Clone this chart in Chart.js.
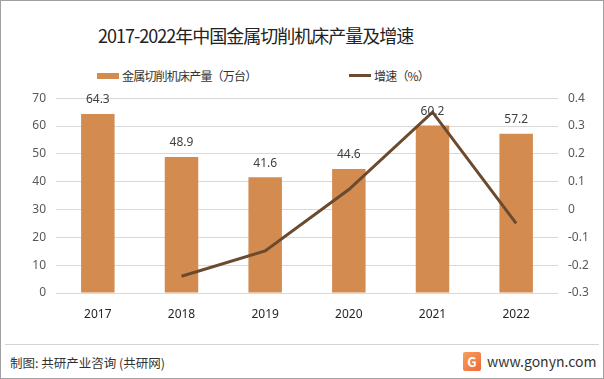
<!DOCTYPE html>
<html lang="zh-CN">
<head>
    <meta charset="UTF-8">
    <script src="https://cdn.jsdelivr.net/npm/chart.js"></script>
    <title>2017-2022年中国金属切削机床产量及增速</title>
    <style>
        html, body {
            margin: 0;
            padding: 0;
            background: #fff;
        }
        .frame {
            position: relative;
            width: 604px;
            height: 379px;
            box-sizing: border-box;
            border: 1px solid #a0a0a0;
            overflow: hidden;
            font-family: "Noto Sans CJK SC", "Noto Sans", sans-serif;
        }
        .title {
            position: absolute;
            top: 21px;
            left: 97px;
            font-size: 18px;
            letter-spacing: -1px;
            color: #222;
            white-space: nowrap;
        }
        .legend {
            position: absolute;
            top: 66px;
            font-size: 12px;
            letter-spacing: -0.8px;
            color: #333;
            white-space: nowrap;
            display: flex;
            align-items: center;
        }
        .legend .swatch {
            display: inline-block;
            width: 22px;
            margin-right: 3px;
        }
        #chartBox {
            position: absolute;
            top: 80px;
            left: 0;
        }
        .footer-line {
            position: absolute;
            left: 4px;
            right: 4px;
            top: 343px;
            border-top: 1px solid #d4d4d4;
        }
        .source {
            position: absolute;
            left: 9px;
            top: 352px;
            font-size: 12.5px;
            color: #333;
        }
        .site {
            position: absolute;
            left: 462px;
            top: 350px;
            font-size: 14px;
            color: #333;
            display: flex;
            align-items: center;
        }
        .logo {
            width: 18px;
            height: 19px;
            margin-right: 6px;
            background: linear-gradient(135deg, #f6a05a, #ee6a3c);
            border-radius: 2px;
            color: #fff;
            font-size: 13px;
            font-weight: bold;
            line-height: 19px;
            text-align: center;
        }
    </style>
</head>
<body>
<div class="frame">
    <div class="title">2017-2022年中国金属切削机床产量及增速</div>
    <div class="legend" style="left:96px;">
        <span class="swatch" style="height:6px;background:#d38b4f;"></span>金属切削机床产量（万台）
    </div>
    <div class="legend" style="left:348px;">
        <span class="swatch" style="height:3px;background:#6b4a2e;"></span>增速（%）
    </div>
    <div id="chartBox">
        <canvas id="chart" width="604" height="250"></canvas>
    </div>
    <div class="footer-line"></div>
    <div class="source">制图: 共研产业咨询 (共研网)</div>
    <div class="site"><span class="logo">G</span>www.gonyn.com</div>
</div>

<script>
    // data
    const years = ['2017', '2018', '2019', '2020', '2021', '2022'];
    const output = [64.3, 48.9, 41.6, 44.6, 60.2, 57.2];       // 万台
    const growth = [null, -0.24, -0.149, 0.072, 0.35, -0.05];  // 增速

    // value labels above the bars
    const barLabels = {
        id: 'barLabels',
        afterDatasetsDraw(chart) {
            const ctx = chart.ctx;
            const meta = chart.getDatasetMeta(1);
            ctx.save();
            ctx.font = '12px "Noto Sans", "DejaVu Sans", sans-serif';
            ctx.fillStyle = '#404040';
            ctx.textAlign = 'center';
            ctx.textBaseline = 'middle';
            meta.data.forEach((bar, i) => {
                ctx.fillText(output[i].toFixed(1), bar.x, bar.y - 14);
            });
            ctx.restore();
        }
    };

    const ctx = document.getElementById('chart').getContext('2d');
    new Chart(ctx, {
        data: {
            labels: years,
            datasets: [
                {
                    type: 'line',
                    label: '增速（%）',
                    data: growth,
                    yAxisID: 'y1',
                    borderColor: '#6b4a2e',
                    borderWidth: 3,
                    pointRadius: 0,
                    tension: 0,
                    order: 0
                },
                {
                    type: 'bar',
                    label: '金属切削机床产量（万台）',
                    data: output,
                    yAxisID: 'y',
                    backgroundColor: '#d38b4f',
                    categoryPercentage: 1,
                    barPercentage: 0.4,
                    order: 1
                }
            ]
        },
        options: {
            responsive: false,
            animation: false,
            layout: { padding: { top: 17, left: 0, right: 0, bottom: 0 } },
            plugins: {
                legend: { display: false },
                tooltip: { enabled: false }
            },
            scales: {
                x: {
                    grid: { display: false, drawTicks: false },
                    border: { display: false },
                    ticks: {
                        padding: 14,
                        color: '#262626',
                        font: { size: 12, family: '"Noto Sans", sans-serif' }
                    },
                    afterFit(scale) { scale.height = 38; }
                },
                y: {
                    position: 'left',
                    min: 0,
                    max: 70,
                    ticks: {
                        stepSize: 10,
                        padding: 10,
                        color: '#595959',
                        font: { size: 12, family: '"Noto Sans", sans-serif' }
                    },
                    grid: { color: '#d9d9d9', drawTicks: false },
                    border: { display: false },
                    afterFit(scale) { scale.width = 55; }
                },
                y1: {
                    position: 'right',
                    min: -0.3,
                    max: 0.4,
                    ticks: {
                        stepSize: 0.1,
                        padding: 10,
                        color: '#595959',
                        font: { size: 12, family: '"Noto Sans", sans-serif' },
                        callback: (v) => Math.abs(v) < 1e-9 ? '0' : v.toFixed(1)
                    },
                    grid: { display: false, drawTicks: false },
                    border: { display: false },
                    afterFit(scale) { scale.width = 47; }
                }
            }
        },
        plugins: [barLabels]
    });
</script>
</body>
</html>
